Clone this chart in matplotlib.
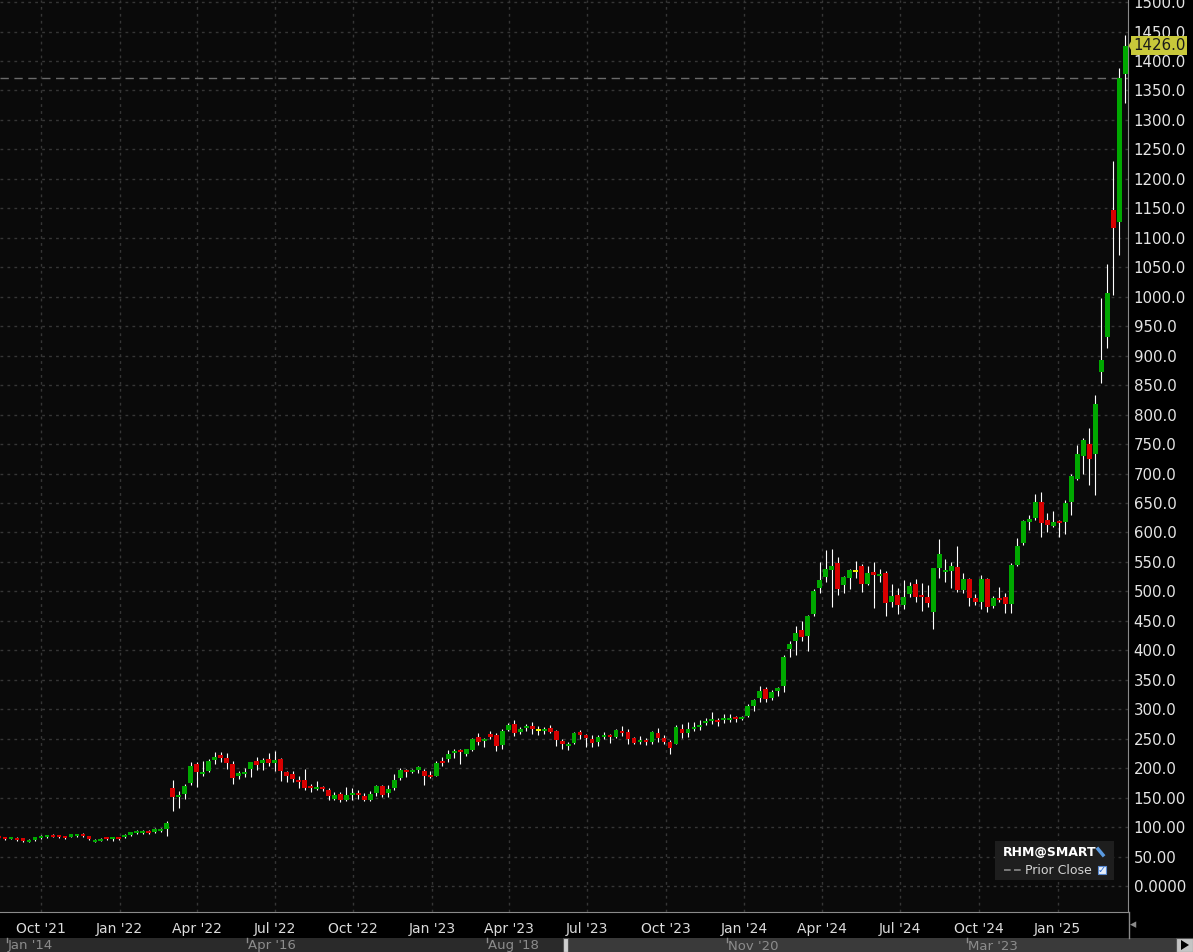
import numpy as np
import pandas as pd
import matplotlib
matplotlib.use("Agg")
import matplotlib.pyplot as plt
import matplotlib.dates as mdates
from matplotlib.patches import Rectangle, Polygon
from matplotlib.lines import Line2D

# velas semanales de RHM@SMART (fecha = viernes de cada semana)
semanas = pd.date_range("2021-08-13", periods=189, freq="W-FRI")

apertura = [84.6, 82.3, 80, 81.1, 81.1, 75.4, 78.3, 81.1, 82.9, 86.3,
            86.3, 84.6, 83.4, 84.6, 88.0, 84.6, 75.4, 77.2, 82.9, 79.4,
            82.9, 82.9, 86.3, 90.3, 90.3, 93.1, 91.4, 93.1, 96.6, 166.9,
            150.3, 156.6, 175.4, 206.3, 190.9, 196, 213.1, 222.3, 216.6, 206.3,
            187.4, 190.9, 199.4, 211.4, 208, 214.9, 208, 214.9, 194.3, 190.9,
            180.6, 179.7, 169.5, 165, 167.8, 162.7, 148, 155.9, 145.8, 154.8,
            157.6, 152.5, 145.8, 157.6, 169.5, 157.6, 166.1, 183, 196.6, 193.2,
            196.6, 194.9, 188.1, 186.4, 212.4, 215.3, 226, 230.5, 223.7, 230.5,
            252.5, 246.3, 258.2, 255.9, 239, 265, 275.1, 261.6, 268.4, 271.8,
            264, 263.3, 268.4, 263.3, 246.3, 237.9, 242.9, 261.6, 256.5, 249.4,
            244.9, 252.8, 256.2, 252.8, 263, 261.3, 251.1, 244.3, 247.7, 244.3,
            259.6, 251.1, 244.3, 240.9, 266.4, 259.6, 266.4, 269.8, 276.6, 280,
            281.7, 281.7, 281.7, 286.8, 283.4, 288.5, 305.5, 319.1, 334.3, 319.1,
            330.9, 339, 401.6, 415.1, 433.7, 423.6, 460.8, 506.5, 524.6, 537,
            547.8, 510.5, 522.9, 534, 542.7, 512.2, 533, 527.4, 530.8, 482.2,
            493.5, 476.5, 495.2, 512.2, 493.5, 490.1, 465.2, 539.3, 532.5, 534.2,
            541, 502, 520.7, 488.4, 481.6, 520.7, 474.8, 488.4, 490.1, 478.5,
            544.7, 582, 617.6, 624.4, 651.6, 621, 610.9, 619.3, 617.6, 651.6,
            690.6, 729.6, 750, 733, 871.5, 931, 1147, 1127.3, 1378.5]

maximo = [86, 84, 84, 82.5, 82, 79.5, 84, 86, 87, 87.5,
          87, 85.5, 89, 89, 89.5, 85.5, 80, 81.5, 84, 84,
          84, 87.5, 92.5, 94.5, 95, 94.5, 98, 99, 110.3, 180.6,
          160.6, 173.7, 209.7, 209.7, 211.4, 214.9, 226.9, 226.9, 225.1, 211.4,
          196, 201.1, 211, 218.3, 216.6, 225.1, 228.6, 216.6, 196, 196,
          187.4, 198.3, 173.4, 178, 170, 166, 159, 159.3, 167.8, 166,
          162.7, 157.6, 161, 171.2, 171.2, 171.2, 189.8, 200, 198.9, 198.9,
          204, 198.3, 194.9, 212.4, 219.2, 231, 232.8, 232, 233, 251.4,
          259.9, 251, 262.7, 259.3, 266.1, 276.8, 281.4, 270, 275.1, 278.5,
          271.8, 270, 273.5, 265, 249.7, 244.6, 261.6, 265, 258.2, 256.2,
          256.2, 261.3, 257.9, 266.4, 271.5, 266.4, 252.8, 254.5, 251.1, 263,
          268.1, 256.2, 247.7, 273.2, 274.9, 278.3, 278.3, 281.7, 285.1, 294.9,
          285.1, 291.9, 291.9, 288.5, 288.5, 308.9, 317.4, 339.4, 337.7, 332.6,
          337.7, 392.5, 415.1, 441.1, 449, 459.1, 504.8, 549.4, 569.9, 571.6,
          558, 525.8, 537.6, 551.2, 546.1, 542.7, 549.5, 537.6, 534.2, 512.2,
          505.4, 519, 515.6, 520.7, 513.9, 510.5, 540, 588.6, 554.6, 549.5,
          576.7, 530.8, 522.3, 495.2, 527.4, 522.3, 491.8, 507.1, 496.9, 547.8,
          590.5, 621, 629.5, 665.2, 668.5, 632.9, 636.3, 621, 655, 699,
          748.3, 760.2, 777.2, 833.1, 997, 1055.6, 1230, 1387.7, 1444]

minimo = [80, 78, 79, 77, 75, 74.5, 76, 80, 82, 82.5,
          82, 79, 82.5, 83.5, 83.5, 77.5, 74.5, 76, 78.5, 76.5,
          78.5, 82, 85.5, 89, 88, 89, 90.5, 92, 84.6, 128,
          133.1, 148, 172, 168.6, 187.4, 194.3, 206.3, 209.7, 199.4, 173.7,
          182.3, 185.7, 185.7, 197.7, 197.7, 202.9, 196, 178.9, 177.1, 177.1,
          166.9, 162.7, 158.8, 162.7, 161, 145.8, 145.8, 143, 144.6, 145.8,
          147.5, 144.1, 144.1, 152.5, 150.8, 151.4, 162.7, 179.7, 184.7, 191,
          191.5, 171.2, 183.6, 186.4, 203.4, 210.7, 216.4, 206.8, 220.9, 228.8,
          239, 235.6, 249.2, 228.8, 232.2, 263.3, 254.8, 258.2, 263.3, 258.2,
          256.5, 257.6, 259.9, 237.9, 232.2, 231, 241.2, 249.2, 236.2, 236.4,
          237.5, 249.4, 242.6, 251.1, 254.5, 240.9, 240.9, 240.9, 239.2, 240.9,
          244.3, 240.9, 224, 240.9, 251.1, 252.8, 263, 264.7, 273.2, 274.9,
          271.5, 276.6, 278.3, 278.3, 281.7, 286.8, 297, 312.3, 312.3, 315.7,
          322.5, 329, 388.6, 391.4, 415.1, 398.8, 457.4, 498, 516, 473.7,
          494, 497.5, 503.7, 522.3, 498.6, 510.5, 471.4, 515.6, 458.4, 473.1,
          461.8, 470.3, 490.1, 482.2, 466.3, 473.1, 436.3, 522.3, 515.6, 505.4,
          498.6, 497, 474.8, 476.5, 469.7, 464.6, 471.4, 481.6, 463, 463,
          543, 578.6, 604, 621, 592.2, 600.7, 609.2, 592.2, 597.3, 629.5,
          689, 699, 680.4, 663.5, 852.8, 912.3, 1002.9, 1070.8, 1329.3]

cierre = [81.1, 79.4, 83, 78.3, 76.6, 78.3, 82.9, 84.6, 86.3, 83.4,
          82.9, 81.7, 88.0, 88.0, 84.6, 79.4, 78.9, 80.6, 79.4, 82.9,
          79.4, 86.3, 91.4, 93.1, 93.1, 90.3, 96.6, 96.6, 106.9, 150.3,
          154.9, 170.3, 202.9, 194.3, 194.3, 211.4, 218.3, 216.6, 208, 184,
          192.6, 194.3, 209.7, 204.6, 213.1, 208, 213.1, 196, 187.4, 182.3,
          177.1, 166.7, 166.7, 167.8, 165, 153.1, 154.2, 145.8, 154.2, 157.6,
          154.2, 145.8, 155.9, 169.5, 154.8, 164.4, 179.7, 196.6, 193.2, 196.6,
          201.7, 187, 184.7, 208.5, 208.5, 224.3, 229.4, 227.1, 232.2, 249.7,
          244.1, 249.7, 253.1, 237.9, 262.7, 273.5, 259.9, 266.7, 271.8, 266.7,
          264, 266.7, 261.6, 248, 241.2, 241.8, 259.9, 256.5, 251.4, 243.2,
          252.3, 256.2, 252.8, 264.7, 259.6, 249.4, 242.6, 247.7, 244.3, 261.3,
          251.1, 244.3, 234.2, 269.8, 259.6, 266.4, 269.8, 273.2, 280, 283.4,
          278.3, 285.1, 285.1, 283.4, 286.8, 305.5, 315.7, 330.9, 317.4, 329.2,
          336, 388, 410.6, 428.7, 421.9, 457.4, 499.8, 520.1, 537.6, 542.7,
          503.7, 524, 535.9, 534, 513.3, 530.8, 527.4, 529.7, 480.5, 491.8,
          476.5, 490.1, 508.8, 490.1, 490.1, 479.9, 539.3, 563.1, 535.9, 542.7,
          502, 520.7, 488.4, 481.6, 520.7, 473.1, 488.4, 485, 478.2, 545.5,
          576.9, 620, 622.7, 651.6, 616, 612.6, 617.6, 616, 649.9, 695.7,
          733, 756.8, 724.5, 817.9, 892.5, 1006.3, 1117, 1370.7, 1426.0]

cierre_anterior = 1370.7

etiquetas_x = ["Oct '21", "Jan '22", "Apr '22", "Jul '22", "Oct '22", "Jan '23", "Apr '23",
               "Jul '23", "Oct '23", "Jan '24", "Apr '24", "Jul '24", "Oct '24", "Jan '25"]
fechas_x = pd.date_range("2021-10-01", periods=14, freq="QS")

valores_y = list(range(0, 1501, 50))
etiquetas_y = ["0.0000", "50.00", "100.00", "150.00"] + ["%.1f" % v for v in valores_y[4:]]

# etiquetas del navegador de abajo
etiquetas_nav = ["Jan '14", "Apr '16", "Aug '18", "Nov '20", "Mar '23"]

W, H = 1193, 952
fig = plt.figure(figsize=(W / 100, H / 100), dpi=100, facecolor="black")
ax = fig.add_axes([0, 1 - 912 / H, 1128 / W, 912 / H])
ax.set_facecolor("#0a0a0a")

x = mdates.date2num(semanas)
o = np.array(apertura)
c = np.array(cierre)
colores = np.where(c > o, "#00a800", np.where(c < o, "#d80000", "#f0f000"))

# mechas
ax.vlines(x, minimo, maximo, color="white", lw=0.8, zorder=3)

# cuerpos de las velas (minimo 2 px de alto)
abajo = np.minimum(o, c)
alto = np.abs(c - o)
minimo_alto = 3.4
abajo = np.where(alto < minimo_alto, (o + c) / 2 - minimo_alto / 2, abajo)
alto = np.maximum(alto, minimo_alto)
ax.bar(x, alto, bottom=abajo, width=5.6, color=colores, zorder=4, linewidth=0)

# linea del cierre anterior
ax.axhline(cierre_anterior, color="#6a6a6a", lw=1, ls=(0, (6, 4)), zorder=2)

# ejes
izq = mdates.date2num(pd.Timestamp("2021-10-01")) - 47.9
der = mdates.date2num(pd.Timestamp("2025-01-01")) + 82.3
ax.set_xlim(izq, der)
ax.set_ylim(-44.1, 1503.5)

ax.set_xticks(mdates.date2num(fechas_x))
ax.set_xticklabels(etiquetas_x)
ax.yaxis.tick_right()
ax.set_yticks(valores_y)
ax.set_yticklabels(etiquetas_y)
ax.tick_params(axis="x", length=0, pad=7, labelsize=10, labelcolor="#dcdcdc")
ax.tick_params(axis="y", length=0, pad=4, labelsize=10.8, labelcolor="#e4e4e4")
ax.grid(True, color="#363636", lw=1, ls=(0, (2, 3)), zorder=0)

for lado in ["top", "left"]:
    ax.spines[lado].set_visible(False)
ax.spines["right"].set_color("#8a8a8a")
ax.spines["bottom"].set_color("#8a8a8a")

# etiqueta del ultimo precio
ax.text(1.0045, cierre[-1], "%.1f" % cierre[-1], transform=ax.get_yaxis_transform(),
        fontsize=10.8, color="#1a1a1a", va="center", ha="left", zorder=10, clip_on=False,
        bbox=dict(boxstyle="square,pad=0.12", fc="#c8c83a", ec="none"))
ax.add_patch(Polygon([[1.0005, cierre[-1]], [1.0035, cierre[-1] + 10], [1.0035, cierre[-1] - 10]],
                     closed=True, fc="#c8c83a", ec="none", transform=ax.get_yaxis_transform(),
                     clip_on=False, zorder=10))


def fx(px):
    return px / W


def fy(py):
    return 1 - py / H


# la linea del eje derecho sigue hacia abajo
fig.add_artist(Line2D([fx(1128.5), fx(1128.5)], [fy(912), fy(938)], color="#8a8a8a", lw=1))
fig.text(fx(1130), fy(925), "\u25c2", color="#8a8a8a", fontsize=9, va="center")

# cuadro de la leyenda
fig.add_artist(Rectangle((fx(995), fy(880)), 119 / W, 39 / H, fc="#1e1e1e", ec="none",
                         transform=fig.transFigure))
fig.text(fx(1003), fy(852), "RHM@SMART", color="white", fontsize=9, fontweight="bold", va="center")
fig.add_artist(Line2D([fx(1098), fx(1103)], [fy(849), fy(855)], color="#5a9ae0", lw=2.5))
fig.add_artist(Line2D([fx(1004), fx(1021)], [fy(870), fy(870)], color="#8a8a8a", lw=1.2, ls=(0, (4, 2))))
fig.text(fx(1025), fy(870), "Prior Close", color="#d4d4d4", fontsize=9, va="center")
fig.add_artist(Rectangle((fx(1098), fy(874)), 8 / W, 8 / H, fc="#e6eefa", ec="#5a8ad0", lw=0.8,
                         transform=fig.transFigure))
fig.text(fx(1102), fy(870), "\u2713", color="#2a6ad0", fontsize=7, va="center", ha="center",
         fontweight="bold")

# navegador de abajo
fig.add_artist(Rectangle((0, 0), 1, 14 / H, fc="#2a2a2a", ec="none", transform=fig.transFigure))
fig.add_artist(Rectangle((fx(568), 0), (1176 - 568) / W, 14 / H, fc="#3a3a3a", ec="none",
                         transform=fig.transFigure))
fig.add_artist(Rectangle((fx(563), 0), 5 / W, 14 / H, fc="#d0d0d0", ec="#555555", lw=0.8,
                         transform=fig.transFigure))
fig.add_artist(Rectangle((fx(1176), 0), 17 / W, 14 / H, fc="#c4c4c4", ec="#555555", lw=0.8,
                         transform=fig.transFigure))
fig.add_artist(Polygon([[fx(1181), fy(940)], [fx(1181), fy(950)], [fx(1189), fy(945)]], closed=True,
                       fc="black", ec="none", transform=fig.transFigure))
for i, txt in enumerate(etiquetas_nav):
    px = 8 + 240 * i
    fig.add_artist(Line2D([fx(px - 1), fx(px - 1)], [fy(938), fy(942)], color="#8c8c8c", lw=1))
    fig.text(fx(px), fy(939.5), txt, color="#8c8c8c", fontsize=9.5, va="top", ha="left")

fig.savefig("out.png", dpi=100, facecolor=fig.get_facecolor())
